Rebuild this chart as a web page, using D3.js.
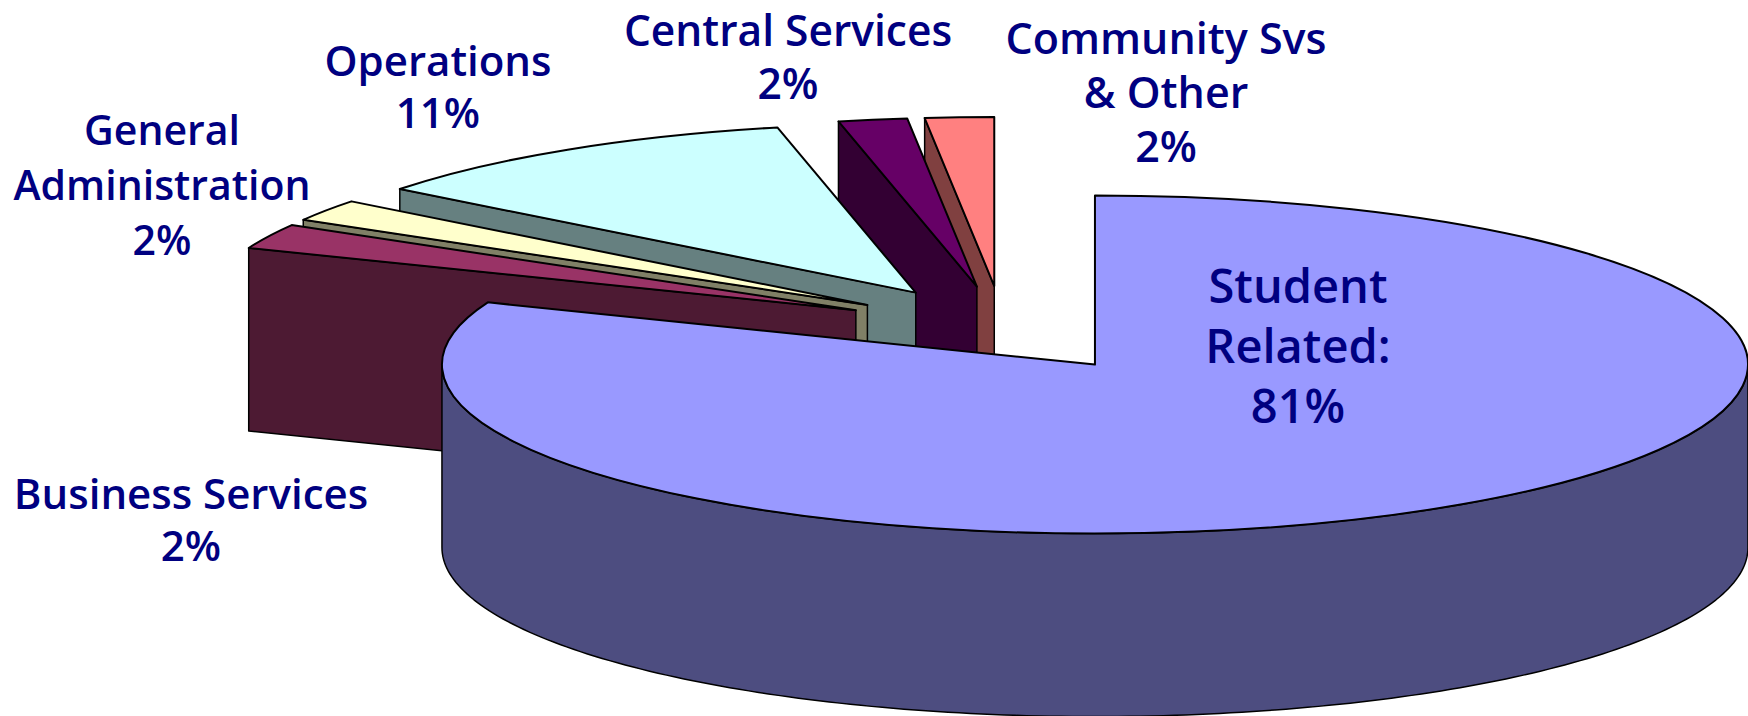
<!DOCTYPE html>
<html>
<head>
<meta charset="utf-8">
<script src="https://cdn.jsdelivr.net/npm/d3@7"></script>
<style>
  html, body { margin: 0; padding: 0; background: #fff; }
  svg { display: block; }
  text { font-family: "Open Sans", sans-serif; font-weight: 600; fill: #000080; text-anchor: middle; }
</style>
</head>
<body>
<div id="chart"></div>
<script>
// Data (clockwise from 12 o'clock)
const categories = ["Student Related", "Business Services", "General Administration", "Operations", "Central Services", "Community Svs & Other"];
const values = [81, 2.4, 2.1, 11.1, 1.7, 1.7];
const labelLines = [
    ["Student", "Related:", "81%"],
    ["Business Services", "2%"],
    ["General", "Administration", "2%"],
    ["Operations", "11%"],
    ["Central Services", "2%"],
    ["Community Svs", "& Other", "2%"]
];
const topColors = ["#9999ff", "#993366", "#ffffcc", "#ccffff", "#660066", "#ff8080"];
const wallColors = ["#4d4d80", "#4d1a33", "#808066", "#668080", "#330033", "#804040"];

// Layout
const width = 1748, height = 716;
const cx = 1003, cy = 329;
const rx = 653, ry = 169, depth = 183;
const explodeX = 163.6, explodeY = 43;
const labelX = [1298, 191, 162, 438, 788, 1166];
const labelY = [286, 494, 130, 61, 31, 39];
const labelSize = [47, 42, 41, 42, 42.5, 43];
const labelGap = [60, 52, 55, 52, 52.5, 54];

const svg = d3.select("#chart")
    .append("svg")
    .attr("width", width)
    .attr("height", height);

const pie = d3.pie().sort(null);
const slices = pie(values);

const arc = d3.arc()
    .innerRadius(0)
    .outerRadius(rx);

// Point on the rim of a slice's ellipse, relative to its apex
const rim = (a) => [rx * Math.sin(a), -ry * Math.cos(a)];

slices.forEach(s => {
    const mid = (s.startAngle + s.endAngle) / 2;
    s.apex = [cx + explodeX * Math.sin(mid), cy - explodeY * Math.cos(mid)];
});

const line = d3.line();

// Painter's order: back slices first, the big slice last
d3.range(slices.length - 1, -1, -1).forEach(i => {
    const s = slices[i];
    const g = svg.append("g").attr("transform", `translate(${s.apex})`);

    if (i === 0) {
        // Curved outer wall, only the front half can be seen
        const front = d3.range(Math.PI / 2, 3 * Math.PI / 2 + 0.001, Math.PI / 180).map(rim);
        const wall = front.concat(front.map(p => [p[0], p[1] + depth]).reverse());
        g.append("path")
            .attr("d", line(wall) + "Z")
            .attr("fill", wallColors[i])
            .attr("stroke", "#000")
            .attr("stroke-width", 1.5)
            .attr("stroke-linejoin", "round");
    } else {
        // Cut face along the slice's start edge
        const p = rim(s.startAngle);
        g.append("path")
            .attr("d", line([[0, 0], p, [p[0], p[1] + depth], [0, depth]]) + "Z")
            .attr("fill", wallColors[i])
            .attr("stroke", "#000")
            .attr("stroke-width", 1.5)
            .attr("stroke-linejoin", "round");
    }

    // Top face: a pie arc squashed into an ellipse
    g.append("path")
        .attr("d", arc(s))
        .attr("transform", `scale(1, ${ry / rx})`)
        .attr("fill", topColors[i])
        .attr("stroke", "#000")
        .attr("stroke-width", 2)
        .attr("stroke-linejoin", "round")
        .attr("vector-effect", "non-scaling-stroke");
});

// Labels
labelLines.forEach((lines, i) => {
    const t = svg.append("text")
        .attr("aria-label", categories[i])
        .attr("font-size", labelSize[i]);
    lines.forEach((l, j) => {
        t.append("tspan")
            .attr("x", labelX[i])
            .attr("y", labelY[i] + j * labelGap[i])
            .attr("dy", "0.36em")
            .text(l);
    });
});
</script>
</body>
</html>
